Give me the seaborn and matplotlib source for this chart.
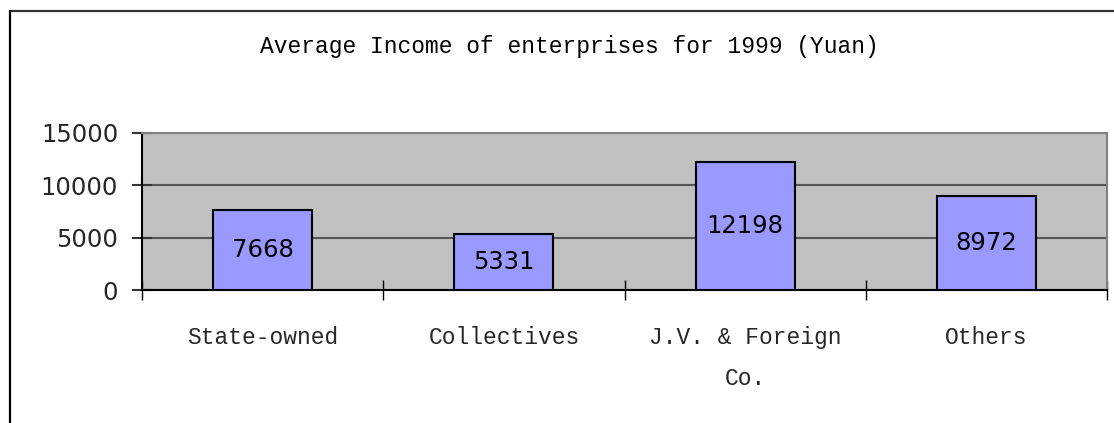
import matplotlib
matplotlib.use("Agg")
import matplotlib.pyplot as plt
from matplotlib.lines import Line2D
import seaborn as sns
import numpy as np

# ---- data ----
categories = ["State-owned", "Collectives", "J.V. & Foreign Co.", "Others"]
tick_labels = ["State-owned", "Collectives", "J.V. & Foreign\nCo.", "Others"]
income = [7668, 5331, 12198, 8972]
y_ticks = [0, 5000, 10000, 15000]
title = "Average Income of enterprises for 1999 (Yuan)"

sns.set_style("ticks")
plt.rcParams["font.family"] = ["DejaVu Sans"]

fig = plt.figure(figsize=(11.14, 4.23), dpi=100)
ax = fig.add_axes([142 / 1114, 1 - 290 / 423, (1107 - 142) / 1114, (290 - 133) / 423])
ax.set_facecolor("#C0C0C0")

sns.barplot(x=categories, y=income, color="#9999FF", edgecolor="black",
            linewidth=1.5, width=0.41, saturation=1, ax=ax, zorder=3)

# value labels in the middle of the bars
for cont in ax.containers:
    ax.bar_label(cont, labels=[str(v) for v in income], label_type="center",
                 fontsize=17.5, color="black", zorder=4)

ax.set_xlim(-0.5, len(categories) - 0.5)
ax.set_ylim(y_ticks[0], y_ticks[-1])
ax.set_yticks(y_ticks)
ax.set_yticklabels([str(t) for t in y_ticks], fontsize=17.5)
ax.set_xlabel("")
ax.set_ylabel("")

# gridlines
ax.set_axisbelow(True)
ax.yaxis.grid(True, color="#555555", linewidth=1.5)
ax.xaxis.grid(False)

# x ticks: labels at centers, tick marks at boundaries
ax.set_xticks(np.arange(len(categories)))
ax.set_xticklabels(tick_labels, fontsize=16.5, family=["Liberation Mono"], linespacing=2.0)
ax.set_xticks(np.arange(len(categories) + 1) - 0.5, minor=True)
ax.tick_params(axis="x", which="major", bottom=True, length=0, pad=26)
ax.tick_params(axis="x", which="minor", bottom=True, direction="inout", length=14.4,
               width=1.0, color="black")

# y ticks drawn explicitly via major ticks
ax.yaxis.set_tick_params(which="major", left=True, right=False, direction="inout",
                         length=14.4, width=1.5, color="#333333", pad=10,
                         labelleft=True)
for t in ax.yaxis.get_major_ticks():
    t.tick1line.set_visible(True)
    t.tick1line.set_markersize(14.4)
    t.tick1line.set_markeredgewidth(1.5)
    t.tick1line.set_color("#333333")

# spines
for side in ["left", "bottom"]:
    ax.spines[side].set_visible(True)
    ax.spines[side].set_color("black")
    ax.spines[side].set_linewidth(1.5)
for side in ["top", "right"]:
    ax.spines[side].set_visible(True)
    ax.spines[side].set_color("#808080")
    ax.spines[side].set_linewidth(1.5)

fig.text(569 / 1114, 1 - 47 / 423, title, ha="center", va="center",
         fontsize=16.5, family=["Liberation Mono"], color="black")

# figure border (top and left)
fig.add_artist(Line2D([10 / 1114, 1], [1 - 11 / 423, 1 - 11 / 423], transform=fig.transFigure,
                      color="#333333", linewidth=1.6))
fig.add_artist(Line2D([10 / 1114, 10 / 1114], [0, 1 - 11 / 423], transform=fig.transFigure,
                      color="black", linewidth=1.6))

fig.savefig("out.png", dpi=100, facecolor="white")
